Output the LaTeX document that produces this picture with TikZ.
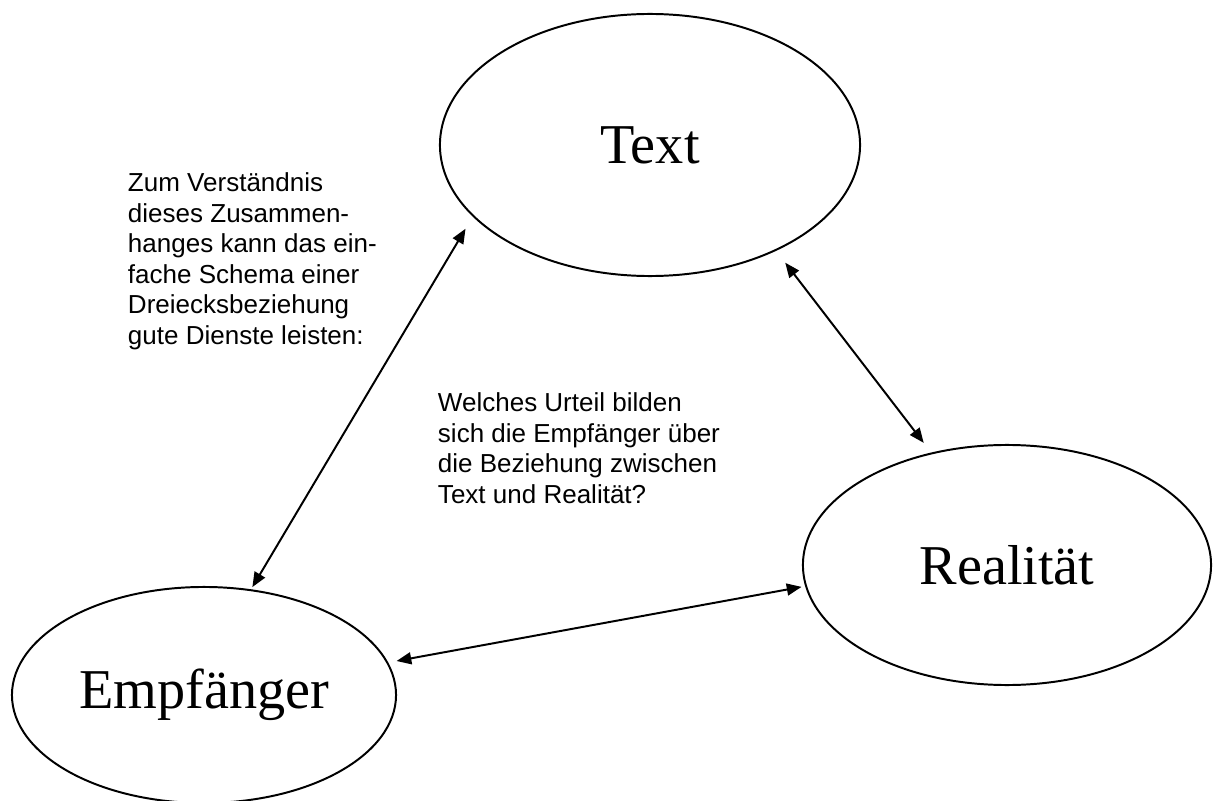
\documentclass[tikz,border=0pt]{standalone}
\usepackage{fontspec}
\setmainfont{Liberation Serif}
\newfontfamily\arialfont{Liberation Sans}
\usepackage{tikz}
\usetikzlibrary{arrows.meta, shapes.geometric}
\tikzset{>={Triangle[length=10.5pt,width=8.5pt]}}

\begin{document}
\begin{tikzpicture}[x=0.025cm,y=-0.025cm,line width=1.4pt,
    oval/.style={draw,ellipse,inner sep=0pt,font=\fontsize{40}{48}\selectfont},
    note/.style={anchor=north west,inner sep=0pt,align=left,font=\arialfont\fontsize{18.5}{21.7}\selectfont}]
  \useasboundingbox (0,0) rectangle (1213,801);
  \node[oval,minimum width=10.5cm,minimum height=6.55cm] (text) at (650,145) {Text};
  \node[oval,minimum width=10.2cm,minimum height=6cm] (real) at (1007,565) {Realität};
  \node[oval,minimum width=9.6cm,minimum height=5.4cm] (empf) at (204,695) {Empfänger};
  % Anmerkungen
  \node[note] (hint) at (127,172) {Zum Verständnis\\dieses Zusammen-\\hanges kann das ein-\\fache Schema einer\\Dreiecksbeziehung\\gute Dienste leisten:};
  \node[note] (quest) at (437,392) {Welches Urteil bilden\\sich die Empfänger über\\die Beziehung zwischen\\Text und Realität?};
  % Beziehungen
  \draw[<->,shorten <=10pt,shorten >=1.8pt] (text.202) -- (empf.66);
  \draw[<->,shorten <=6pt,shorten >=2.6pt] (empf.10.4) -- (real.186.4);
  \draw[<->,shorten <=10.6pt,shorten >=8.7pt] (text.320) -- (real.124.5);
\end{tikzpicture}
\end{document}
